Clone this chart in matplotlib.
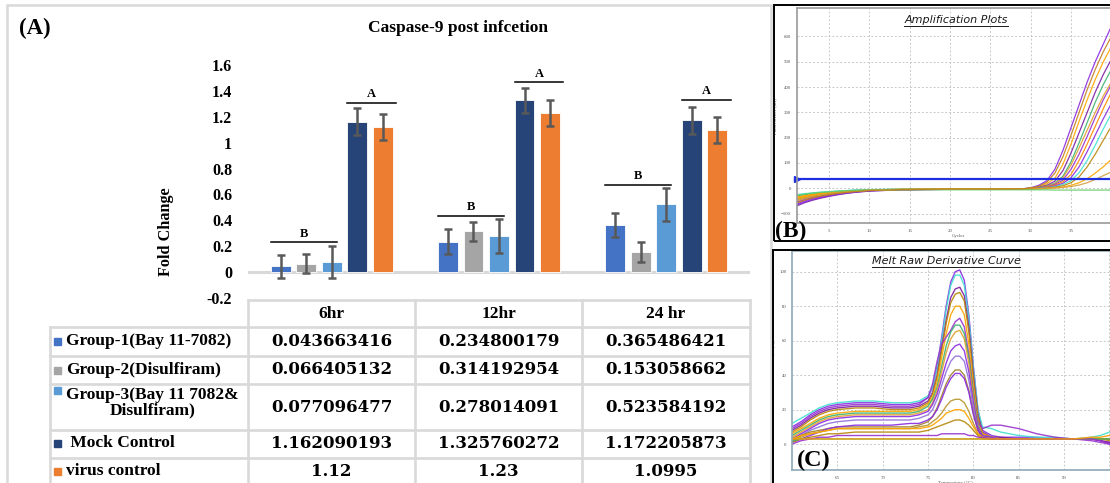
import numpy as np
import matplotlib.pyplot as plt
from matplotlib.patches import Rectangle
from matplotlib.lines import Line2D

plt.rcParams['font.family'] = 'Liberation Serif'

W, H = 1110, 483

# ---------------------------
# (A) Caspase-9 fold change
# ---------------------------
times = ['6hr', '12hr', '24 hr']
group_names = ['Group-1(Bay 11-7082)', 'Group-2(Disulfiram)',
               'Group-3(Bay 11 7082&\nDisulfiram)', ' Mock Control', 'virus control']
group_colors = ['#4472C4', '#A5A5A5', '#5B9BD5', '#264478', '#ED7D31']

group1 = [0.043663416, 0.234800179, 0.365486421]
group2 = [0.066405132, 0.314192954, 0.153058662]
group3 = [0.077096477, 0.278014091, 0.523584192]
mock = [1.162090193, 1.325760272, 1.172205873]
virus = [1.12, 1.23, 1.0995]

err1 = [0.09, 0.095, 0.095]
err2 = [0.075, 0.072, 0.078]
err3 = [0.125, 0.13, 0.13]
err_mock = [0.106, 0.10, 0.107]
err_virus = [0.10, 0.10, 0.10]

# letters over the treated groups (B) and the controls (A)
sig_b_level = [0.23, 0.435, 0.675]
sig_a_level = [1.306, 1.466, 1.331]

y_ticks = [-0.2, 0, 0.2, 0.4, 0.6, 0.8, 1, 1.2, 1.4, 1.6]

# ---------------------------
# (B) amplification plot, (C) melt curve
# ---------------------------
amp_cycles = [1, 2, 3, 4, 5, 6, 7, 8, 10, 14, 20, 26, 29, 30, 31, 32, 33, 34, 35, 36, 37, 38, 39, 40, 41]
amp_curves = [
    [-62, -50, -40, -33, -27, -22, -18, -14, -9, -5, -3, -3, -2, 2, 12, 30, 75, 150, 240, 330, 420, 500, 570, 640, 700],
    [-40, -33, -27, -22, -18, -15, -12, -10, -7, -4, -3, -3, -2, 1, 6, 18, 40, 95, 175, 265, 350, 430, 500, 560, 610],
    [-70, -57, -47, -39, -32, -26, -21, -17, -11, -6, -4, -3, -2, 0, 4, 12, 28, 70, 140, 220, 300, 380, 450, 510, 560],
    [-30, -25, -21, -18, -15, -12, -10, -8, -6, -4, -3, -3, -2, 0, 3, 9, 20, 48, 105, 180, 260, 340, 410, 470, 520],
    [-50, -41, -34, -28, -23, -19, -15, -12, -8, -5, -3, -3, -2, 0, 2, 8, 18, 42, 92, 160, 230, 300, 365, 420, 470],
    [-55, -45, -37, -31, -25, -21, -17, -13, -9, -5, -4, -3, -2, -1, 2, 6, 15, 33, 75, 135, 205, 280, 350, 410, 460],
    [-35, -29, -24, -20, -17, -14, -11, -9, -6, -4, -3, -3, -2, -1, 1, 5, 12, 26, 55, 110, 175, 245, 315, 380, 430],
    [-66, -54, -44, -36, -30, -25, -20, -16, -10, -6, -4, -3, -3, -2, 0, 3, 9, 20, 42, 85, 145, 210, 275, 335, 390],
    [-25, -21, -18, -15, -13, -11, -9, -7, -5, -3, -2, -2, -2, -2, 0, 2, 6, 15, 30, 62, 110, 170, 235, 295, 350],
    [-45, -37, -31, -26, -21, -18, -14, -11, -8, -5, -3, -3, -2, -2, -1, 1, 4, 10, 22, 45, 85, 135, 190, 245, 300],
    [-38, -31, -26, -21, -18, -15, -12, -10, -7, -4, -3, -3, -3, -3, -2, 0, 2, 5, 12, 22, 38, 60, 85, 115, 140],
    [-48, -39, -32, -27, -22, -18, -15, -12, -8, -5, -4, -3, -3, -3, -2, -1, 1, 3, 7, 13, 22, 35, 50, 65, 80],
    [-28, -23, -19, -16, -14, -12, -10, -9, -7, -6, -6, -6, -6, -6, -6, -6, -7, -7, -7, -7, -7, -7, -7, -7, -7],
    [-58, -47, -38, -31, -26, -21, -17, -14, -9, -5, -3, -3, -2, 1, 8, 24, 60, 125, 210, 300, 390, 470, 540, 600, 650],
]
amp_colors = ['#8a2be2', '#ffa500', '#7b1fa2', '#3cb371', '#e0a030', '#9932cc', '#ff8c00',
              '#8a2be2', '#40e0d0', '#b8860b', '#ffa500', '#d2a040', '#66cc66', '#c08020']
amp_threshold = 35

melt_temps = [60, 61, 62, 63, 64, 65, 67, 69, 71, 73, 74, 75, 75.5, 76, 76.5, 77, 77.5, 78, 78.5,
              79, 79.5, 80, 80.5, 81, 82, 83, 85, 87, 89, 91, 93, 94, 95, 96]
melt_curves = [
    [10, 13, 17, 20, 22, 23, 24, 24, 23, 23, 24, 27, 33, 45, 62, 80, 94, 100, 101, 95, 75, 45, 20, 8, 5, 4, 4, 4, 3, 3, 3, 2, 1, 0],
    [12, 15, 18, 21, 23, 24, 25, 25, 24, 24, 25, 28, 33, 44, 60, 78, 92, 98, 98, 92, 73, 44, 20, 10, 9, 7, 5, 4, 4, 3, 4, 5, 7, 9],
    [8, 11, 15, 18, 20, 21, 22, 22, 21, 21, 22, 25, 30, 40, 56, 72, 85, 90, 91, 86, 68, 40, 17, 7, 4, 4, 3, 3, 3, 3, 3, 2, 1, 0],
    [7, 10, 14, 17, 19, 20, 21, 21, 20, 20, 21, 24, 29, 39, 54, 70, 82, 87, 88, 83, 65, 38, 16, 6, 4, 3, 3, 3, 3, 3, 3, 3, 2, 2],
    [6, 9, 12, 15, 17, 18, 19, 19, 19, 19, 20, 23, 27, 36, 50, 64, 75, 80, 80, 75, 58, 33, 14, 6, 4, 3, 3, 3, 3, 3, 3, 3, 3, 3],
    [9, 12, 16, 19, 21, 22, 23, 23, 22, 22, 23, 27, 35, 48, 58, 62, 66, 71, 73, 68, 52, 30, 13, 9, 11, 11, 9, 6, 4, 3, 2, 1, 0, -1],
    [5, 8, 11, 14, 16, 17, 18, 18, 18, 18, 19, 22, 26, 33, 45, 57, 65, 69, 69, 64, 50, 29, 12, 5, 4, 3, 3, 3, 3, 3, 3, 3, 3, 3],
    [4, 7, 10, 13, 15, 16, 17, 17, 17, 17, 18, 20, 24, 31, 42, 53, 61, 65, 66, 61, 47, 27, 11, 5, 4, 3, 3, 3, 3, 3, 3, 3, 3, 3],
    [3, 6, 9, 12, 14, 15, 16, 16, 16, 16, 17, 19, 23, 29, 38, 47, 54, 57, 58, 54, 42, 24, 10, 5, 4, 3, 3, 3, 3, 3, 3, 3, 3, 3],
    [2, 5, 8, 10, 12, 13, 14, 14, 14, 14, 15, 17, 20, 26, 34, 42, 48, 51, 51, 48, 37, 21, 9, 4, 3, 3, 3, 3, 3, 3, 3, 3, 3, 3],
    [3, 5, 7, 8, 9, 10, 10, 10, 10, 10, 11, 13, 16, 21, 28, 35, 40, 43, 43, 40, 31, 18, 8, 4, 3, 3, 3, 3, 3, 3, 3, 3, 3, 3],
    [1, 3, 5, 7, 9, 10, 11, 11, 11, 12, 12, 14, 16, 20, 26, 33, 38, 41, 41, 38, 30, 17, 8, 4, 3, 3, 3, 3, 3, 3, 3, 3, 3, 3],
    [2, 4, 6, 7, 8, 9, 9, 9, 9, 9, 10, 11, 13, 15, 18, 22, 25, 26, 26, 24, 19, 12, 6, 4, 3, 3, 3, 3, 3, 3, 3, 3, 3, 3],
    [3, 5, 6, 7, 8, 9, 9, 9, 9, 9, 9, 10, 11, 13, 15, 18, 19, 20, 20, 19, 15, 10, 6, 4, 3, 3, 3, 3, 3, 3, 3, 3, 3, 3],
    [1, 3, 4, 5, 6, 6, 7, 7, 7, 7, 7, 8, 9, 10, 11, 12, 13, 14, 14, 13, 11, 8, 5, 3, 3, 3, 3, 3, 3, 3, 3, 3, 3, 3],
    [2, 3, 3, 3, 3, 3, 3, 3, 3, 3, 3, 3, 3, 3, 3, 3, 3, 3, 3, 3, 3, 3, 3, 3, 3, 3, 3, 3, 3, 3, 3, 3, 3, 3],
    [0, 2, 3, 4, 4, 5, 5, 5, 5, 5, 5, 5, 5, 5, 6, 6, 6, 6, 6, 6, 5, 5, 4, 4, 3, 3, 3, 3, 3, 3, 3, 2, 0, -2],
    [3, 3, 3, 3, 3, 3, 3, 3, 3, 3, 3, 3, 3, 3, 3, 3, 3, 3, 3, 3, 3, 3, 3, 3, 3, 3, 3, 3, 3, 3, 4, 4, 5, 6],
]
melt_colors = ['#8a2be2', '#40e0d0', '#7b1fa2', '#b8860b', '#ffa500', '#9932cc', '#3cb371', '#e0a030',
               '#8a2be2', '#9370db', '#a0822d', '#8a2be2', '#b8962b', '#ffa500', '#b8860b', '#3cb371',
               '#9932cc', '#ff9900']


def fx(x):
    return x / W


def fy(y):
    return 1 - y / H


fig = plt.figure(figsize=(W / 100, H / 100), dpi=100)


def fig_line(x0, y0, x1, y1, **kw):
    fig.add_artist(Line2D([fx(x0), fx(x1)], [fy(y0), fy(y1)], transform=fig.transFigure, **kw))


# outer frame of panel A
fig.add_artist(Rectangle((fx(7), fy(495)), fx(764), 490 / H, transform=fig.transFigure,
                         fill=False, ec='#D9D9D9', lw=1.8))

fig.text(fx(19), fy(28), '(A)', fontsize=16.5, fontweight='bold', va='center', ha='left')
fig.text(fx(458), fy(28), 'Caspase-9 post infcetion', fontsize=12.5, fontweight='bold',
         ha='center', va='center')
fig.text(fx(166), fy(232), 'Fold Change', fontsize=11.7, fontweight='bold', rotation=90,
         ha='center', va='center')

ax = fig.add_axes([fx(248), fy(298), (750 - 248) / W, (298 - 65) / H])
ax.set_xlim(-0.5, 2.5)
ax.set_ylim(-0.2, 1.6)
for s in ax.spines.values():
    s.set_visible(False)
ax.set_xticks([])
ax.set_yticks(y_ticks)
ax.set_yticklabels([f'{t:g}' for t in y_ticks], fontweight='bold')
ax.tick_params(axis='y', length=0, pad=11.5, labelsize=11.5)
ax.patch.set_alpha(0)
ax.axhline(0, color='#D9D9D9', lw=2.2, zorder=1)

x = np.arange(len(times))
step, width = 0.1524, 0.1195
values = [group1, group2, group3, mock, virus]
errs = [err1, err2, err3, err_mock, err_virus]
for k, (vals, e, c) in enumerate(zip(values, errs, group_colors)):
    pos = x + (k - 2) * step
    ax.bar(pos, vals, width, color=c, edgecolor='white', lw=0.6, zorder=2)
    ax.errorbar(pos, vals, yerr=e, fmt='none', ecolor='#595959', elinewidth=1.8,
                capsize=2.7, capthick=1.8, zorder=3)

for i in range(len(times)):
    b0 = i - 2 * step - width / 2
    b1 = i + width / 2 - 0.03
    ax.plot([b0, b1], [sig_b_level[i]] * 2, color='black', lw=1.1, clip_on=False)
    ax.text((b0 + b1) / 2, sig_b_level[i] + 0.02, 'B', ha='center', va='bottom',
            fontsize=9, fontweight='bold')
    a0 = i + step - width / 2
    a1 = i + 2 * step + width / 2 + 0.02
    ax.plot([a0, a1], [sig_a_level[i]] * 2, color='black', lw=1.1, clip_on=False)
    ax.text((a0 + a1) / 2, sig_a_level[i] + 0.02, 'A', ha='center', va='bottom',
            fontsize=9, fontweight='bold')

# data table under the bars
col_x = [50, 248, 415, 582, 750]
row_y = [300, 327, 356, 384, 430, 458, 495]
grid_kw = dict(color='#D9D9D9', lw=1.9, solid_capstyle='projecting')
fig_line(248, row_y[0], 750, row_y[0], **grid_kw)
for yy in row_y[1:-1]:
    fig_line(50, yy, 750, yy, **grid_kw)
fig_line(50, row_y[1], 50, row_y[-1], **grid_kw)
for xx in col_x[1:]:
    fig_line(xx, row_y[0], xx, row_y[-1], **grid_kw)

for j, t in enumerate(times):
    fig.text(fx((col_x[j + 1] + col_x[j + 2]) / 2), fy(314), t, fontsize=12.5,
             fontweight='bold', ha='center', va='center')

row_mid = [341, 370, 407, 443, 471]
label_mid = [341, 370, 403, 443, 471]
square_mid = [341, 370, 390, 443, 471]
for k, name in enumerate(group_names):
    fig.add_artist(Rectangle((fx(54), fy(square_mid[k] + 3.5)), 7 / W, 7 / H,
                             transform=fig.transFigure, color=group_colors[k]))
    fig.text(fx(66), fy(label_mid[k]), name, fontsize=12.5, fontweight='bold', ha='left',
             va='center', multialignment='center', linespacing=0.95)
    for j in range(len(times)):
        fig.text(fx((col_x[j + 1] + col_x[j + 2]) / 2), fy(row_mid[k]), f'{values[k][j]:.10g}',
                 fontsize=12, fontweight='bold', family='DejaVu Serif', ha='center', va='center')


# ---------------------------
# (B) and (C) instrument plots
# ---------------------------
def instrument_axes(left, top, right, bottom, spine_color):
    a = fig.add_axes([fx(left), fy(bottom), (right - left) / W, (bottom - top) / H])
    for s in a.spines.values():
        s.set_color(spine_color)
        s.set_linewidth(1.2)
    a.grid(True, color='#c8c8c8', lw=0.7, ls=(0, (2, 2)))
    a.tick_params(length=0, labelsize=3.5, labelcolor='#555555', pad=4)
    a.set_axisbelow(True)
    return a


def underlined_title(xc, yc, text):
    t = fig.text(fx(xc), fy(yc), text, fontsize=8, style='italic', family='DejaVu Sans',
                 color='#1a1a1a', ha='center', va='center')
    fig.canvas.draw()
    bb = t.get_window_extent()
    fig_line(bb.x0, H - bb.y0 + 1, bb.x1, H - bb.y0 + 1, color='#1a1a1a', lw=0.7)


fig.add_artist(Rectangle((fx(774), fy(241)), 340 / W, 236 / H, transform=fig.transFigure,
                         fill=False, ec='black', lw=1.4))
axb = instrument_axes(796.5, 8, 1119.5, 223, '#9a9a9a')
axb.set_xlim(1, 41)
axb.set_ylim(-137, 712)
axb.set_xticks([5, 10, 15, 20, 25, 30, 35, 40])
axb.set_xticklabels(['5', '10', '15', '20', '25', '30', '35', ''])
axb.set_yticks([-100, 0, 100, 200, 300, 400, 500, 600])
for vals, c in zip(amp_curves, amp_colors):
    axb.plot(amp_cycles, vals, color=c, lw=0.9, alpha=0.9)
axb.axhline(amp_threshold, color='#1e2ee0', lw=1.6)
axb.plot([1], [amp_threshold], marker='>', ms=4, color='#1e2ee0', clip_on=False)
axb.set_xlabel('Cycles', fontsize=3.5, color='#555555', labelpad=1)
axb.set_ylabel('Fluorescence (dR)', fontsize=3.5, color='#555555', labelpad=3)
underlined_title(956, 20, 'Amplification Plots')
fig.text(fx(775), fy(231), '(B)', fontsize=17, fontweight='bold', ha='left', va='center')

fig.add_artist(Rectangle((fx(773), fy(495)), 340 / W, 245 / H, transform=fig.transFigure,
                         fill=False, ec='black', lw=1.4))
axc = instrument_axes(792, 251, 1118.5, 470, '#8fa8b8')
axc.set_xlim(60, 96)
axc.set_ylim(-15, 112)
axc.set_xticks([65, 70, 75, 80, 85, 90, 95])
axc.set_xticklabels(['65', '70', '75', '80', '85', '90', ''])
axc.set_yticks([0, 20, 40, 60, 80, 100])
for vals, c in zip(melt_curves, melt_colors):
    axc.plot(melt_temps, vals, color=c, lw=1.0, alpha=0.9)
axc.set_xlabel('Temperature (°C)', fontsize=3.5, color='#555555', labelpad=1)
axc.set_ylabel("Fluorescence (-R'(T))", fontsize=3.5, color='#555555', labelpad=3)
underlined_title(946, 261, 'Melt Raw Derivative Curve')
fig.text(fx(797), fy(460), '(C)', fontsize=17.5, fontweight='bold', ha='left', va='center')

fig.savefig('out.png', dpi=100)
